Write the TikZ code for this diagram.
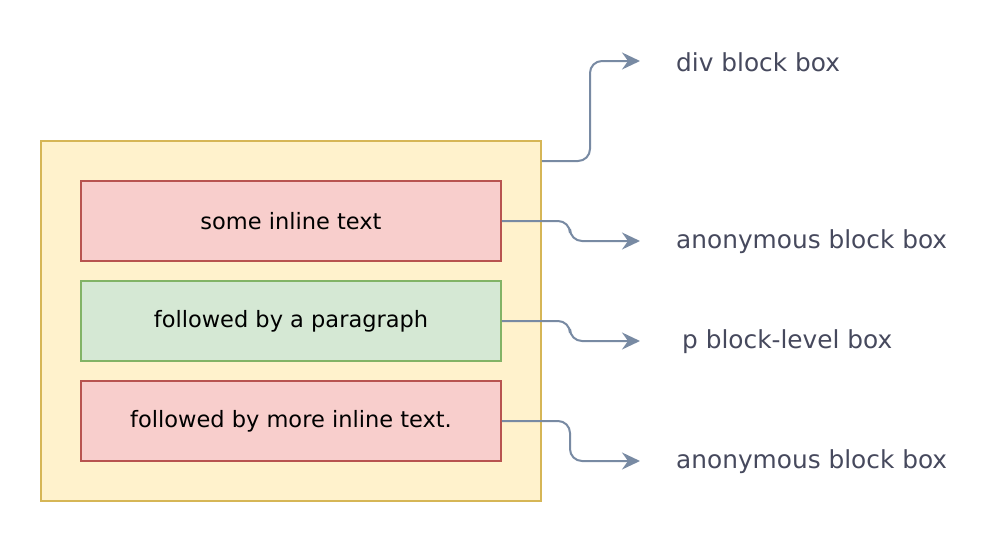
\documentclass[tikz,border=0pt]{standalone}
\usepackage{fontspec}
\setmainfont{DejaVu Sans}
\usetikzlibrary{arrows.meta}
\definecolor{yfill}{HTML}{FFF2CC}
\definecolor{ydraw}{HTML}{D6B656}
\definecolor{rfill}{HTML}{F8CECC}
\definecolor{rdraw}{HTML}{B85450}
\definecolor{gfill}{HTML}{D5E8D4}
\definecolor{gdraw}{HTML}{82B366}
\definecolor{arr}{HTML}{788AA3}
\definecolor{lab}{HTML}{46495D}
\tikzset{
  inbox/.style={minimum width=420pt, minimum height=80pt, inner sep=0pt, line width=1.5pt, font=\fontsize{22.5}{26}\selectfont},
  redbox/.style={inbox, fill=rfill, draw=rdraw},
  greenbox/.style={inbox, fill=gfill, draw=gdraw},
  conn/.style={draw=arr, line width=2pt, rounded corners=12pt, -{Stealth[length=18pt,width=17pt,inset=6pt]}},
  lbl/.style={anchor=west, inner sep=0pt, text=lab, font=\fontsize{24.8}{28}\selectfont}
}
\begin{document}
\begin{tikzpicture}[x=1pt,y=-1pt]
\useasboundingbox (0,0) rectangle (1002,542);
\node[minimum width=500pt, minimum height=360pt, fill=yfill, draw=ydraw, line width=1.5pt, inner sep=0pt] (outer) at (291,321) {};
\node[redbox] (b1) at (291,221) {some inline text};
\node[greenbox] (b2) at (291,321) {followed by a paragraph};
\node[redbox] (b3) at (291,421) {followed by more inline text.};
\coordinate (e0) at (640,61);
\coordinate (e1) at (640,241);
\coordinate (e2) at (640,341);
\coordinate (e3) at (640,461);
\node[lbl] (l0) at (676,62) {div block box};
\node[lbl] (l1) at (676,242) {anonymous block box};
\node[lbl] (l2) at (682,342) {p block-level box};
\node[lbl] (l3) at (676,462) {anonymous block box};
\coordinate (s0) at (outer.north east |- 0,161);
\draw[conn] (s0) -- (590,161) -- (590,61) -- (e0);
\draw[conn] (b1.east) -- (570,221) -- (570,241) -- (e1);
\draw[conn] (b2.east) -- (570,321) -- (570,341) -- (e2);
\draw[conn] (b3.east) -- (570,421) -- (570,461) -- (e3);
\end{tikzpicture}
\end{document}
